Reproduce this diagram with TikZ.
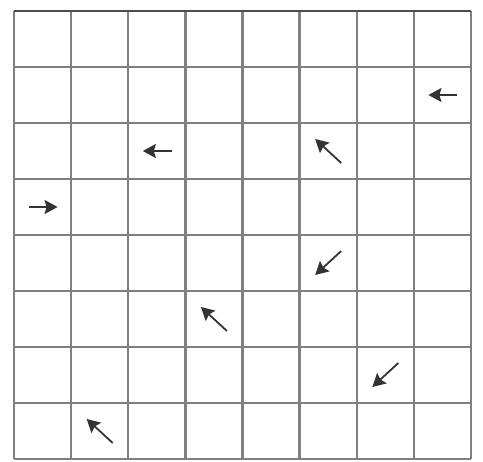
\documentclass[tikz,border=0pt]{standalone}
\usetikzlibrary{arrows.meta}
\begin{document}
\begin{tikzpicture}[x=1pt,y=-1pt,
  gridline/.style={draw=black!50,line width=2.4pt},
  arr/.style={draw=black!80,line width=1.8pt,-{Stealth[length=13pt,width=14pt,inset=2pt]}}]
\useasboundingbox (0,0) rectangle (483,462);
\fill[white] (0,0) rectangle (483,462);
% grid
\foreach \i in {0,...,8} {
  \draw[gridline] ({14+\i*57.125},11) -- ({14+\i*57.125},459);
  \draw[gridline] (14,{11+\i*56}) -- (471,{11+\i*56});
}
\draw[draw=black!70,line width=2.8pt] (14,11) -- (471,11);
% cell centre coordinates
\foreach \c in {0,...,7} {
  \foreach \r in {0,...,7} {
    \coordinate (c\c r\r) at ({14+(\c+0.5)*57.125},{11+(\r+0.5)*56});
  }
}
% arrows: W, E, NW, SW
\draw[arr] ([xshift=15pt]c7r1) -- ([xshift=-14pt]c7r1);
\draw[arr] ([xshift=15pt]c2r2) -- ([xshift=-14pt]c2r2);
\draw[arr] ([shift={(13,12)}]c5r2) -- ([shift={(-13,-12)}]c5r2);
\draw[arr] ([xshift=-14pt]c0r3) -- ([xshift=15pt]c0r3);
\draw[arr] ([shift={(13,-12)}]c5r4) -- ([shift={(-13,12)}]c5r4);
\draw[arr] ([shift={(13,12)}]c3r5) -- ([shift={(-13,-12)}]c3r5);
\draw[arr] ([shift={(13,-12)}]c6r6) -- ([shift={(-13,12)}]c6r6);
\draw[arr] ([shift={(13,12)}]c1r7) -- ([shift={(-13,-12)}]c1r7);
\end{tikzpicture}
\end{document}
